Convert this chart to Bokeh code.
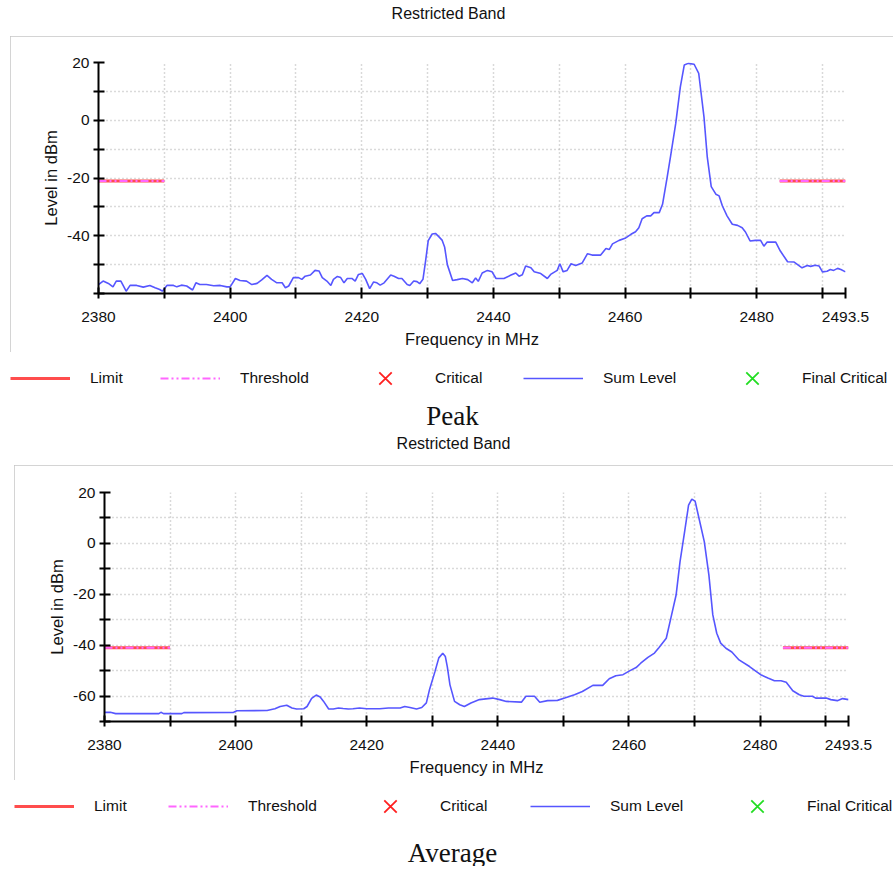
import numpy as np
from bokeh.plotting import figure
from bokeh.models import FixedTicker, Label, Legend, LegendItem, ColumnDataSource, Range1d
from bokeh.embed import file_html
from bokeh.resources import INLINE

# ---------------- data ----------------
X_START = 2380
X_END = 2493.5
X_TICKS = [2380, 2390, 2400, 2410, 2420, 2430, 2440, 2450, 2460, 2470, 2480, 2490, 2493.5]
X_LABELLED = [2380, 2400, 2420, 2440, 2460, 2480, 2493.5]

LIMIT_LO = [2380, 2390]
LIMIT_HI = [2483.5, 2493.5]

PEAK_LIMIT = -21
AVG_LIMIT = -41

PEAK_Y_TICKS = [20, 10, 0, -10, -20, -30, -40, -50, -60]
PEAK_Y_LABELLED = [20, 0, -20, -40]
AVG_Y_TICKS = [20, 10, 0, -10, -20, -30, -40, -50, -60, -70]
AVG_Y_LABELLED = [20, 0, -20, -40, -60]

peak_freq = [2380.0, 2380.7, 2381.5, 2382.2, 2382.7, 2383.4, 2384.2, 2384.8, 2385.8, 2386.8,
             2387.8, 2388.6, 2389.3, 2389.7, 2390.4, 2391.4, 2391.9, 2392.6, 2393.4, 2394.3,
             2394.8, 2395.4, 2396.4, 2397.5, 2398.5, 2399.5, 2400.0, 2400.8, 2401.5, 2402.5,
             2403.3, 2404.1, 2404.8, 2405.6, 2406.3, 2407.1, 2407.9, 2408.4, 2408.9, 2409.6,
             2410.4, 2410.9, 2411.4, 2412.2, 2412.9, 2413.5, 2414.0, 2414.7, 2415.3, 2415.7,
             2416.3, 2416.8, 2417.3, 2417.8, 2418.5, 2419.0, 2419.5, 2420.1, 2420.6, 2421.2,
             2421.8, 2422.3, 2422.8, 2423.4, 2424.4, 2424.9, 2425.6, 2426.1, 2426.9, 2427.3,
             2427.9, 2428.4, 2428.8, 2429.3, 2429.7, 2430.1, 2430.7, 2431.2, 2431.7, 2432.2,
             2432.6, 2433.0, 2433.8, 2434.5, 2435.3, 2436.1, 2436.8, 2437.3, 2437.7, 2438.3,
             2439.1, 2439.8, 2440.4, 2441.6, 2442.6, 2443.4, 2443.9, 2444.4, 2444.9, 2445.7,
             2446.2, 2447.2, 2448.2, 2448.7, 2449.7, 2450.1, 2450.6, 2451.2, 2451.8, 2452.5,
             2453.5, 2454.3, 2455.0, 2456.3, 2457.1, 2457.6, 2458.1, 2459.1, 2460.0, 2460.9,
             2461.6, 2462.1, 2462.6, 2463.3, 2463.9, 2464.4, 2465.2, 2465.7, 2466.4, 2466.9,
             2467.7, 2468.4, 2469.0, 2469.6, 2470.5, 2471.2, 2472.0, 2472.5, 2473.1, 2473.8,
             2474.3, 2474.8, 2475.5, 2476.3, 2477.1, 2477.8, 2478.3, 2479.0, 2479.8, 2480.6,
             2481.1, 2481.6, 2482.9, 2483.6, 2484.7, 2485.7, 2486.9, 2487.7, 2488.2, 2488.9,
             2489.5, 2490.0, 2490.7, 2491.2, 2491.7, 2492.3, 2492.8, 2493.5]
peak_level = [-56.9, -55.7, -56.5, -57.7, -55.7, -55.7, -59.2, -57.2, -57.2, -57.8,
              -57.2, -58.0, -58.6, -59.2, -57.2, -57.2, -57.7, -57.1, -57.4, -58.8,
              -56.3, -56.9, -56.9, -57.3, -57.2, -57.7, -57.7, -54.8, -55.5, -55.7,
              -56.9, -56.5, -55.3, -53.7, -55.1, -56.3, -56.3, -58.0, -57.4, -54.5,
              -54.5, -55.1, -54.0, -53.6, -52.0, -52.2, -54.5, -55.7, -57.2, -55.1,
              -54.1, -54.5, -56.3, -54.8, -54.8, -55.7, -53.4, -53.1, -55.1, -58.3,
              -56.0, -56.3, -57.1, -56.3, -53.6, -54.0, -54.8, -54.8, -56.9, -57.2,
              -55.7, -55.9, -56.6, -55.1, -48.7, -41.7, -39.4, -39.2, -40.3, -41.5,
              -44.0, -50.0, -55.5, -55.2, -54.8, -55.2, -56.3, -54.6, -55.8, -52.9,
              -52.0, -52.5, -54.8, -54.8, -53.7, -52.9, -54.0, -53.5, -50.5, -51.1,
              -52.5, -53.1, -54.8, -53.4, -52.0, -49.7, -52.5, -52.0, -49.7, -50.3,
              -49.4, -46.2, -46.7, -46.7, -44.4, -44.8, -42.8, -41.6, -40.9, -39.5,
              -38.6, -37.2, -34.1, -33.1, -33.1, -32.0, -32.0, -29.1, -19.8, -12.8,
              -1.2, 11.5, 19.1, 19.7, 19.4, 16.2, 1.1, -12.8, -23.0, -25.6,
              -26.2, -29.7, -33.1, -36.0, -36.4, -37.2, -38.7, -41.8, -41.6, -41.6,
              -43.6, -42.2, -42.2, -45.3, -49.0, -49.1, -51.1, -50.3, -50.6, -50.2,
              -50.5, -52.5, -52.3, -51.7, -52.0, -51.3, -51.7, -52.5]

avg_freq = [2380.0, 2380.9, 2381.7, 2384.5, 2388.3, 2388.6, 2389.0, 2391.8, 2392.1, 2399.7,
            2400.2, 2404.8, 2405.3, 2406.0, 2406.8, 2407.8, 2408.6, 2409.3, 2410.4, 2410.9,
            2411.6, 2412.3, 2412.9, 2413.4, 2414.2, 2414.9, 2415.7, 2416.4, 2417.2, 2417.9,
            2418.9, 2420.0, 2422.0, 2423.3, 2425.1, 2425.8, 2426.6, 2427.6, 2428.4, 2429.1,
            2429.6, 2430.4, 2431.0, 2431.6, 2432.0, 2432.3, 2432.7, 2433.4, 2434.2, 2434.9,
            2435.9, 2437.2, 2438.5, 2439.2, 2440.3, 2441.3, 2443.6, 2444.3, 2445.6, 2446.4,
            2447.6, 2449.1, 2450.2, 2451.7, 2452.9, 2454.5, 2456.0, 2457.0, 2458.0, 2459.1,
            2460.1, 2461.1, 2461.8, 2462.9, 2463.9, 2464.6, 2465.7, 2466.4, 2467.2, 2467.8,
            2468.5, 2469.1, 2469.6, 2470.1, 2470.7, 2471.5, 2472.2, 2472.8, 2473.4, 2474.0,
            2474.8, 2475.7, 2476.8, 2478.4, 2479.4, 2480.1, 2481.2, 2482.2, 2483.2, 2484.0,
            2485.0, 2486.0, 2486.7, 2488.0, 2488.5, 2490.1, 2490.8, 2491.8, 2492.6, 2493.5]
avg_level = [-66.4, -66.4, -66.9, -66.9, -66.9, -66.4, -66.9, -66.9, -66.5, -66.4,
             -65.8, -65.7, -65.4, -65.0, -64.1, -63.6, -64.7, -65.1, -65.0, -64.1,
             -60.9, -59.6, -60.4, -62.0, -65.1, -65.1, -64.7, -64.9, -65.1, -65.0,
             -64.7, -65.0, -65.0, -64.7, -64.7, -64.1, -64.5, -65.1, -64.5, -62.7,
             -57.3, -50.5, -45.0, -43.2, -44.5, -48.5, -55.6, -62.1, -63.4, -64.1,
             -62.7, -61.4, -61.0, -60.8, -61.4, -62.1, -62.4, -60.1, -60.1, -62.4,
             -61.8, -61.7, -60.8, -59.5, -58.2, -55.8, -55.8, -53.2, -52.0, -51.6,
             -50.1, -48.8, -47.1, -44.8, -43.1, -40.9, -37.3, -29.4, -20.3, -7.2,
             4.6, 15.0, 17.4, 16.6, 9.8, 0.7, -12.4, -28.1, -35.3, -39.2,
             -41.2, -42.7, -45.8, -48.4, -50.3, -51.6, -52.9, -54.0, -54.0, -54.6,
             -57.9, -59.5, -60.1, -60.1, -60.8, -60.8, -61.4, -61.8, -61.0, -61.4]

TITLE = "Restricted Band"
X_LABEL = "Frequency in MHz"
Y_LABEL = "Level in dBm"
LEGEND_LABELS = ["Limit", "Threshold", "Critical", "Sum Level", "Final Critical"]

# ---------------- style ----------------
SANS = "Liberation Sans"
SERIF = "Liberation Serif"
TXT = "#111111"
PAGE_W = 895

STY = dict(
    limit=dict(line_color="#ff4d4d", line_width=3),
    thr=dict(line_color="#ff66ff", line_width=2, line_dash="8 3 2 3 2 3"),
    crit=dict(marker="x", size=17, line_color="#ff2020", line_width=1.8),
    sum=dict(line_color="#5656ff", line_width=1.6),
    final=dict(marker="x", size=17, line_color="#22dd22", line_width=1.8),
)


def fmt(v):
    return f"{v:g}"


def panel(top, bottom):
    """A plain strip whose frame fills the canvas; its data units are page pixels."""
    f = figure(width=PAGE_W, height=bottom - top,
               x_range=Range1d(0, PAGE_W), y_range=Range1d(bottom, top),
               output_backend="svg", toolbar_location=None,
               x_axis_location=None, y_axis_location=None,
               min_border_left=0, min_border_right=0, min_border_top=0, min_border_bottom=0)
    f.outline_line_color = None
    f.border_fill_color = "white"
    f.background_fill_color = "white"
    f.grid.visible = False
    return f


def add_text(f, x, y, text, font=SANS, size="16px"):
    f.add_layout(Label(x=x, y=y, text=text, text_align="center", text_baseline="middle",
                       text_font=font, text_font_size=size, text_color=TXT))


def add_legend(f, bottom, center_y, xs):
    def none():
        return ColumnDataSource(dict(x=np.array([np.nan]), y=np.array([np.nan])))
    rends = [f.line(x="x", y="y", source=none(), **STY["limit"]),
             f.line(x="x", y="y", source=none(), **STY["thr"]),
             f.scatter(x="x", y="y", source=none(), **STY["crit"]),
             f.line(x="x", y="y", source=none(), **STY["sum"]),
             f.scatter(x="x", y="y", source=none(), **STY["final"])]
    heights = [20, 20, 44, 20, 44]
    for lab, rend, lx, h in zip(LEGEND_LABELS, rends, xs, heights):
        lg = Legend(items=[LegendItem(label=lab, renderers=[rend])],
                    location=(lx, bottom - (center_y + h / 2)), orientation="horizontal",
                    glyph_width=60, glyph_height=h, label_height=20, label_standoff=20,
                    padding=0, margin=0, border_line_color=None, background_fill_alpha=0,
                    label_text_font=SANS, label_text_font_size="15.5px",
                    label_text_color=TXT)
        f.add_layout(lg)


def chart(freq, level, limit_value, y_start, y_ticks, y_labelled,
          left, right, top, bottom, fx0, fx1, fy0, fy1):
    """Chart whose box spans page [left,right]x[top,bottom], frame spans [fx0,fx1]x[fy0,fy1]."""
    p = figure(width=right - left, height=bottom - top,
               x_range=Range1d(X_START, X_END), y_range=Range1d(y_start, 20),
               output_backend="svg", toolbar_location=None,
               min_border_left=fx0 - left, min_border_right=right - fx1,
               min_border_top=fy0 - top, min_border_bottom=bottom - fy1,
               margin=(0, 0, 0, left),
               styles={"outline": "2px solid #c6c6c6", "outline-offset": "-2px"})
    p.outline_line_color = None
    p.background_fill_color = "white"
    p.border_fill_color = "white"

    p.xaxis.ticker = FixedTicker(ticks=X_TICKS)
    p.xaxis.major_label_overrides = {t: (fmt(t) if t in X_LABELLED else "") for t in X_TICKS}
    p.yaxis.ticker = FixedTicker(ticks=y_ticks)
    p.yaxis.major_label_overrides = {t: (fmt(t) if t in y_labelled else "") for t in y_ticks}
    for ax in (p.xaxis[0], p.yaxis[0]):
        ax.axis_line_width = 2
        ax.axis_line_color = "black"
        ax.major_tick_line_width = 2
        ax.major_tick_line_color = "black"
        ax.major_tick_in = 6
        ax.major_tick_out = 5
        ax.minor_tick_line_color = None
        ax.major_label_text_font = SANS
        ax.major_label_text_font_size = "15.5px"
        ax.major_label_text_color = TXT
        ax.axis_label_text_font = SANS
        ax.axis_label_text_font_size = "16.5px"
        ax.axis_label_text_font_style = "normal"
        ax.axis_label_text_color = TXT
    p.xaxis.axis_label = X_LABEL
    p.xaxis.major_label_standoff = 13
    p.xaxis.axis_label_standoff = 5
    p.yaxis.axis_label = Y_LABEL
    p.yaxis.major_label_standoff = 4
    p.yaxis.axis_label_standoff = 4

    for g in (p.xgrid[0], p.ygrid[0]):
        g.grid_line_color = "#b4b4b4"
        g.grid_line_dash = "1 3"
        g.grid_line_width = 1.5

    lv = [[limit_value, limit_value], [limit_value, limit_value]]
    p.multi_line(xs=[LIMIT_LO, LIMIT_HI], ys=lv, **STY["limit"])
    p.multi_line(xs=[LIMIT_LO, LIMIT_HI], ys=lv, **STY["thr"])
    p.line(freq, level, **STY["sum"])
    return p


# page layout (page pixels, top-left origin)
head1 = panel(0, 36)
add_text(head1, 448, 13, TITLE)

c1 = chart(peak_freq, peak_level, PEAK_LIMIT, -60, PEAK_Y_TICKS, PEAK_Y_LABELLED,
           left=10, right=893, top=36, bottom=352, fx0=98, fx1=845, fy0=62, fy1=293)

mid = panel(352, 432)
add_legend(mid, 432, 378, [10, 160, 355, 523, 722])
add_text(mid, 452, 415, "Peak", font=SERIF, size="27px")

head2 = panel(432, 465)
add_text(head2, 453, 443, TITLE)

c2 = chart(avg_freq, avg_level, AVG_LIMIT, -70, AVG_Y_TICKS, AVG_Y_LABELLED,
           left=14, right=893, top=465, bottom=780, fx0=104, fx1=848, fy0=492, fy1=721)

foot = panel(780, 866)
add_legend(foot, 866, 806, [14, 168, 360, 530, 727])
add_text(foot, 452, 852, "Average", font=SERIF, size="27px")

open("out.html", "w").write(file_html([head1, c1, mid, head2, c2, foot], INLINE))
